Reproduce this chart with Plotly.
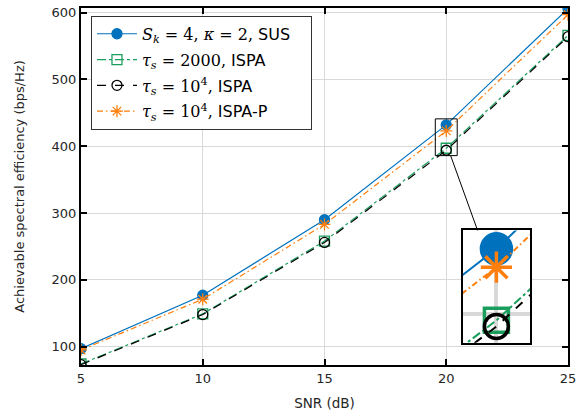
import plotly.graph_objects as go

snr = [5, 10, 15, 20, 25]
sus = [97, 177, 290, 432, 606]
ispa_2000 = [74, 149, 258, 397, 566]
ispa_1e4 = [73, 148, 256, 394, 564]
ispa_p = [95, 171, 283, 423, 597]

x_ticks = [5, 10, 15, 20, 25]
y_ticks = [100, 200, 300, 400, 500, 600]

zoom_x = [19.55, 20.45]
zoom_y = [386, 441]

MATH = '<span style="font-family:\'DejaVu Serif\'">'
names = [
    MATH + '<i>S</i><sub><i>k</i></sub> = 4, <i>κ</i> = 2,</span> SUS\u00a0\u00a0\u00a0',
    MATH + '<i>τ</i><sub><i>s</i></sub> = 2000,</span> ISPA',
    MATH + '<i>τ</i><sub><i>s</i></sub> = 10<sup>4</sup>,</span> ISPA',
    MATH + '<i>τ</i><sub><i>s</i></sub> = 10<sup>4</sup>,</span> ISPA-P',
]

BLUE = '#0072BD'
GREEN = '#1A9E5C'
BLACK = '#000000'
ORANGE = '#FF7F0E'

series = [
    (sus, BLUE, 'solid', 'circle', 10, 30),
    (ispa_2000, GREEN, 'dashdot', 'square-open', 10, 24),
    (ispa_1e4, BLACK, 'dash', 'circle-open', 10, 24),
    (ispa_p, ORANGE, '6px,3px,1.5px,3px', 'asterisk-open', 10, 26),
]

fig = go.Figure()
for i, ((vals, col, dash, sym, ms, ims), nm) in enumerate(zip(series, names)):
    fig.add_trace(go.Scatter(
        x=snr, y=vals, name=nm, mode='lines+markers', legendgroup=f'g{i}',
        line=dict(color=col, width=1.2, dash=dash),
        marker=dict(symbol=sym, size=ms, color=col, line=dict(color=col, width=1.3)),
        xaxis='x', yaxis='y'))
for (vals, col, dash, sym, ms, ims), nm in zip(series, names):
    fig.add_trace(go.Scatter(
        x=snr, y=vals, showlegend=False, mode='lines+markers',
        line=dict(color=col, width=2, dash=dash),
        marker=dict(symbol=sym, size=ims, color=col, line=dict(color=col, width=3.5)),
        xaxis='x2', yaxis='y2'))

Y_RANGE = [72.5, 607]
X_RANGE = [5, 25]

# zoom box on main axes
fig.add_shape(type='rect', xref='x', yref='y', x0=zoom_x[0], x1=zoom_x[1],
              y0=zoom_y[0], y1=zoom_y[1], line=dict(color='black', width=1))

inset_dom_x = [0.784, 0.922]
inset_dom_y = [0.062, 0.377]
# connector line: bottom of zoom box to top edge of inset
fig.add_shape(type='line', xref='x', yref='y',
              x0=zoom_x[0] + 0.7 * (zoom_x[1] - zoom_x[0]), y0=zoom_y[0],
              x1=X_RANGE[0] + (inset_dom_x[0] + 0.22 * (inset_dom_x[1] - inset_dom_x[0])) * (X_RANGE[1] - X_RANGE[0]),
              y1=Y_RANGE[0] + inset_dom_y[1] * (Y_RANGE[1] - Y_RANGE[0]),
              line=dict(color='black', width=1))

axis_common = dict(showline=True, linecolor='black', linewidth=2, mirror='ticks',
                   ticks='inside', ticklen=6, tickwidth=2, tickcolor='black',
                   showgrid=True, gridcolor='#D9D9D9', gridwidth=1, zeroline=False,
                   automargin=False,
                   tickfont=dict(family='DejaVu Sans', size=13, color='#262626'))

fig.update_layout(
    width=585, height=419,
    margin=dict(l=81, r=17, t=8, b=54),
    paper_bgcolor='white', plot_bgcolor='white',
    font=dict(family='DejaVu Sans', size=13, color='#262626'),
    xaxis=dict(range=X_RANGE, tickvals=x_ticks, domain=[0, 1],
               title=dict(text='SNR (dB)', standoff=14, font=dict(size=13.5)),
               **axis_common),
    yaxis=dict(range=Y_RANGE, tickvals=y_ticks, domain=[0, 1],
               title=dict(text='Achievable spectral efficiency (bps/Hz)', standoff=24,
                          font=dict(size=13)),
               **axis_common),
    xaxis2=dict(range=zoom_x, domain=inset_dom_x, anchor='y2', showticklabels=False,
                tickvals=[20], ticks='', showline=True, linecolor='black', linewidth=2,
                mirror=True, showgrid=True, gridcolor='#D9D9D9', gridwidth=4, zeroline=False),
    yaxis2=dict(range=zoom_y, domain=inset_dom_y, anchor='x2', showticklabels=False,
                tickvals=[400], ticks='', showline=True, linecolor='black', linewidth=2,
                mirror=True, showgrid=True, gridcolor='#D9D9D9', gridwidth=4, zeroline=False),
    legend=dict(x=0.0205, y=0.978, xanchor='left', yanchor='top',
                bgcolor='white', bordercolor='#333333', borderwidth=1,
                font=dict(family='DejaVu Sans', size=16, color='black'),
                itemwidth=40, tracegroupgap=2),
    showlegend=True,
)

fig.write_html('out.html', post_script="document.body.style.margin='0px';",
               config={'displayModeBar': False})
